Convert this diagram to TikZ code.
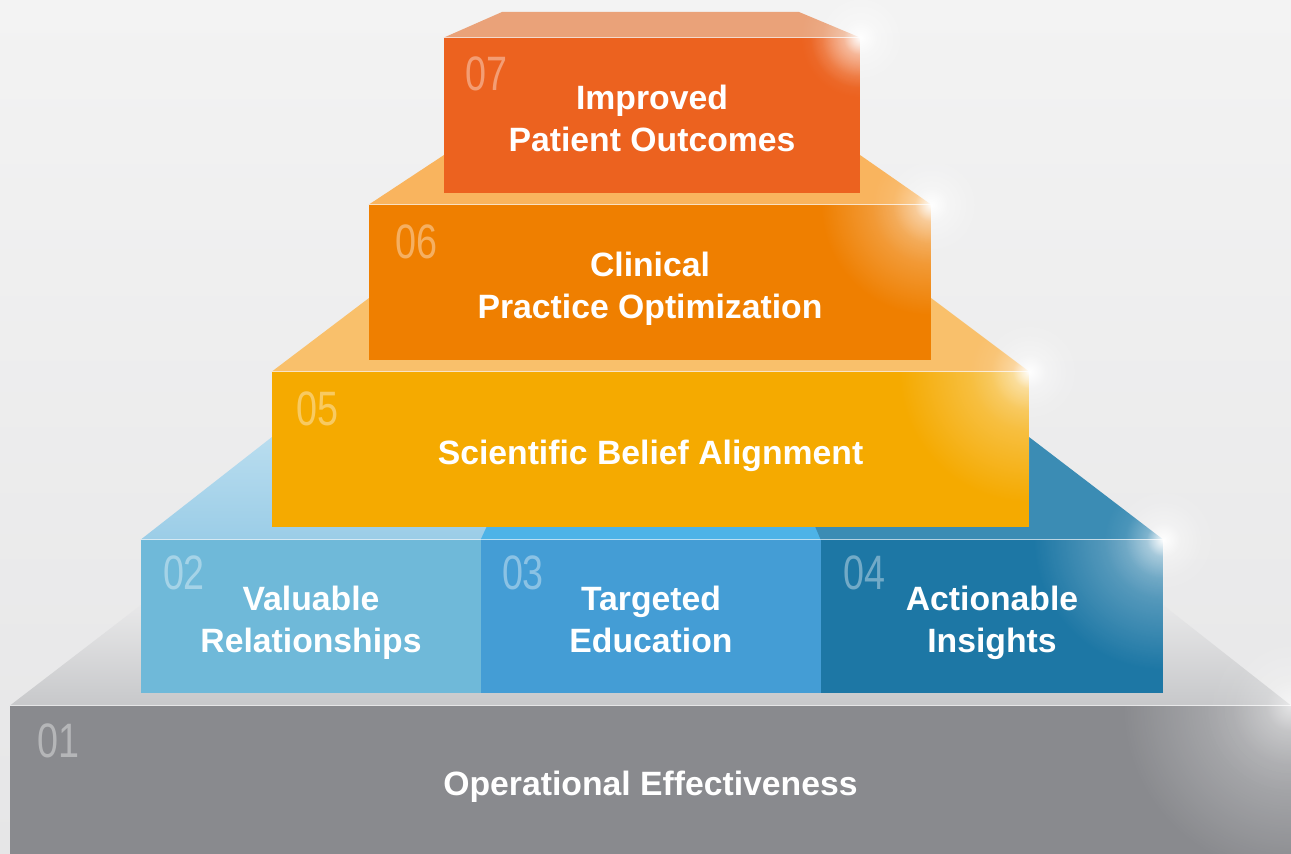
\documentclass[tikz,border=0pt]{standalone}
\usepackage{fontspec}
\setmainfont{Liberation Sans}
\newfontfamily\numfont[FakeStretch=0.78]{Liberation Sans}
\usetikzlibrary{fadings}
\newcommand\tallstrut{\rule{0pt}{1.2em}}
\newcommand\deepstrut{\rule[-0.3em]{0pt}{0pt}}
\definecolor{bgtop}{HTML}{F3F3F3}
\definecolor{bgbot}{HTML}{E6E6E7}
\definecolor{grayfront}{HTML}{898A8E}
\definecolor{graytopA}{HTML}{E8E8E9}
\definecolor{graytopB}{HTML}{C7C8CA}
\definecolor{bluefrontA}{HTML}{6FB9D9}
\definecolor{bluefrontB}{HTML}{449DD5}
\definecolor{bluefrontC}{HTML}{1D77A5}
\definecolor{bluetopA}{HTML}{B9DDEF}
\definecolor{bluetopAA}{HTML}{9BCDE7}
\definecolor{bluetopB}{HTML}{4DB3E7}
\definecolor{bluetopC}{HTML}{3B8CB4}
\definecolor{yellowfront}{HTML}{F5AA00}
\definecolor{yellowtop}{HTML}{F9C06B}
\definecolor{orangefront}{HTML}{EF7F00}
\definecolor{orangetop}{HTML}{F9B45E}
\definecolor{redfront}{HTML}{EC621F}
\definecolor{redtop}{HTML}{EAA279}
\pgfdeclareradialshading{sparksh}{\pgfpointorigin}{color(0bp)=(white); color(2bp)=(white!80!black); color(7bp)=(white!35!black); color(16bp)=(white!8!black); color(25bp)=(black); color(50bp)=(black)}
\pgfdeclarefading{sparkfade}{\pgfuseshading{sparksh}}
\tikzfading[name=sheenfade, inner color=transparent!0, outer color=transparent!100]
\tikzset{
  face/.style={draw=none, inner sep=0pt, align=center, text=white,
    font=\bfseries\fontsize{19.2}{23.9}\selectfont},
  num/.style={anchor=north west, inner sep=0pt, text=white, text opacity=0.38,
    font=\numfont\fontsize{27.5}{27.5}\selectfont},
  spark/.style={fill=white, path fading=sparkfade},
  sheen/.style={fill=white, path fading=sheenfade},
  rim/.style={white, opacity=0.45, line width=0.6pt}
}
\begin{document}
\begin{tikzpicture}[x=0.02cm, y=-0.02cm]
\useasboundingbox (0,0) rectangle (1291,854);
\shade[top color=bgtop, bottom color=bgbot] (0,0) rectangle (1291,854);

\node[face, fill=grayfront, minimum width=25.62cm, minimum height=2.96cm] (t1) at (650.5,780) {\tallstrut Operational Effectiveness\deepstrut};
\shade[top color=graytopA, bottom color=graytopB] (t1.north west) -- (t1.north east) -- (1163,605) -- (141,605) -- cycle;

\node[face, fill=bluefrontA, minimum width=6.8cm, minimum height=3.06cm] (t2) at (311,616.5) {\tallstrut Valuable\\Relationships\deepstrut};
\node[face, fill=bluefrontB, minimum width=6.8cm, minimum height=3.06cm] (t3) at (651,616.5) {\tallstrut Targeted\\Education\deepstrut};
\node[face, fill=bluefrontC, minimum width=6.84cm, minimum height=3.06cm] (t4) at (992,616.5) {\tallstrut Actionable\\Insights\deepstrut};
\shade[top color=bluetopA, bottom color=bluetopAA] (t2.north west) -- (t2.north east) -- (528,437) -- (272,437) -- cycle;
\fill[bluetopB] (t3.north west) -- (t3.north east) -- (777,437) -- (528,437) -- cycle;
\fill[bluetopC] (t4.north west) -- (t4.north east) -- (1029,437) -- (777,437) -- cycle;

\node[face, fill=yellowfront, minimum width=15.14cm, minimum height=3.1cm] (t5) at (650.5,449.5) {\tallstrut Scientific Belief Alignment\deepstrut};
\fill[yellowtop] (t5.north west) -- (t5.north east) -- (931,298) -- (369,298) -- cycle;

\node[face, fill=orangefront, minimum width=11.24cm, minimum height=3.1cm] (t6) at (650,282.5) {\tallstrut Clinical\\Practice Optimization\deepstrut};
\fill[orangetop] (t6.north west) -- (t6.north east) -- (860,155) -- (444,155) -- cycle;

\node[face, fill=redfront, minimum width=8.32cm, minimum height=3.1cm] (t7) at (652,115.5) {\tallstrut Improved\\Patient Outcomes\deepstrut};
\fill[redtop] (t7.north west) -- (t7.north east) -- (799,12) -- (502,12) -- cycle;

\foreach \t in {t1,t2,t3,t4,t5,t6,t7}
  \draw[rim] (\t.north west) -- (\t.north east);

\foreach \t/\r in {t1/170,t4/130,t5/130,t6/110,t7/50}{
  \begin{scope}
    \clip (\t.north west) rectangle (\t.south east);
    \fill[sheen, opacity=0.45] (\t.north east) circle (\r);
  \end{scope}
}

\node[num] at ([shift={(27,18)}]t1.north west) {01};
\node[num] at ([shift={(22,16)}]t2.north west) {02};
\node[num] at ([shift={(21,16)}]t3.north west) {03};
\node[num] at ([shift={(22,16)}]t4.north west) {04};
\node[num] at ([shift={(24,20)}]t5.north west) {05};
\node[num] at ([shift={(26,20)}]t6.north west) {06};
\node[num] at ([shift={(21,19)}]t7.north west) {07};

\foreach \t in {t4,t5,t6,t7}
  \fill[spark] (\t.north east) circle (60);
\fill[spark, opacity=0.6] (t1.north east) circle (90);
\end{tikzpicture}
\end{document}
